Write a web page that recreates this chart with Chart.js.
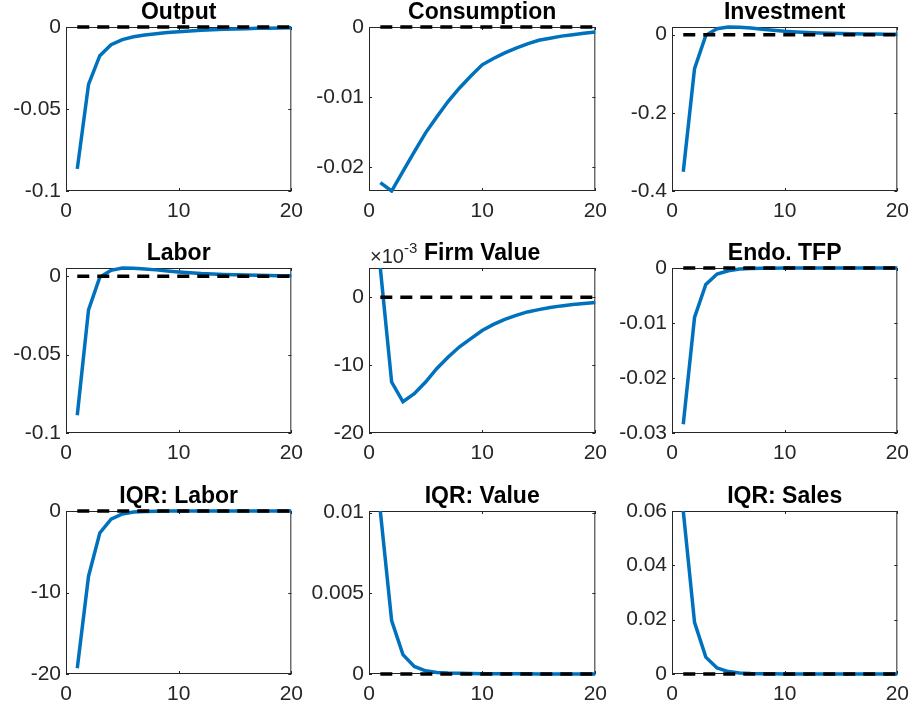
<!DOCTYPE html>
<html>
<head>
<meta charset="utf-8">
<script src="https://cdn.jsdelivr.net/npm/chart.js@4.4.1/dist/chart.umd.min.js"></script>
<style>
  body { margin: 0; background: #fff; }
  #wrap { position: relative; width: 915px; height: 711px; overflow: hidden; }
  #wrap canvas { position: absolute; }
</style>
</head>
<body>
<div id="wrap"></div>
<script>
// horizon (periods after shock)
const periods = [1, 2, 3, 4, 5, 6, 7, 8, 9, 10, 11, 12, 13, 14, 15, 16, 17, 18, 19, 20];
const xTicks = [0, 10, 20];

// impulse responses
const outputIrf = [-0.0865, -0.035, -0.0175, -0.0108, -0.0077, -0.006, -0.0049, -0.0041, -0.0034, -0.0029,
  -0.0024, -0.002, -0.0017, -0.0014, -0.0012, -0.001, -0.0008, -0.0007, -0.0006, -0.0005];
const consumptionIrf = [-0.0222, -0.0234, -0.0206, -0.0178, -0.0151, -0.0128, -0.0106, -0.0087, -0.007, -0.0054,
  -0.0045, -0.0037, -0.003, -0.0024, -0.0019, -0.0016, -0.0013, -0.0011, -0.0009, -0.0007];
const investmentIrf = [-0.3506, -0.0868, -0.0017, 0.015, 0.0196, 0.019, 0.017, 0.0136, 0.011, 0.0085,
  0.0068, 0.0055, 0.0044, 0.0035, 0.0028, 0.0022, 0.0018, 0.0014, 0.0011, 0.0009];
const laborIrf = [-0.0887, -0.0214, -0.0006, 0.0038, 0.0053, 0.0051, 0.0047, 0.0041, 0.0034, 0.0028,
  0.0023, 0.0018, 0.0015, 0.0012, 0.001, 0.0008, 0.0006, 0.0005, 0.0004, 0.0003];
// firm value in units of 1e-3
const firmValueIrf = [4.3, -12.5, -15.4, -14.2, -12.5, -10.5, -8.8, -7.3, -6.1, -4.9,
  -4.0, -3.26, -2.67, -2.17, -1.83, -1.53, -1.28, -1.09, -0.94, -0.79];
const endoTfpIrf = [-0.0284, -0.009, -0.003, -0.0011, -0.0005, -0.0002, -0.0001, -0.00005, -0.00003, -0.00002,
  -0.00001, -0.00001, 0, 0, 0, 0, 0, 0, 0, 0];
const iqrLaborIrf = [-19.3, -8.0, -2.7, -1.0, -0.37, -0.13, -0.05, -0.02, -0.01, -0.01,
  0, 0, 0, 0, 0, 0, 0, 0, 0, 0];
const iqrValueIrf = [0.0101, 0.00331, 0.0012, 0.00047, 0.0002, 0.0001, 0.00006, 0.00004, 0.00003, 0.00002,
  0.00002, 0.00001, 0.00001, 0.00001, 0, 0, 0, 0, 0, 0];
const iqrSalesIrf = [0.06, 0.019, 0.0062, 0.0022, 0.0009, 0.0004, 0.0002, 0.0001, 0.00005, 0.00003,
  0.00002, 0.00001, 0, 0, 0, 0, 0, 0, 0, 0];

const titles = ["Output", "Consumption", "Investment", "Labor", "Firm Value", "Endo. TFP",
  "IQR: Labor", "IQR: Value", "IQR: Sales"];
const series = [outputIrf, consumptionIrf, investmentIrf, laborIrf, firmValueIrf, endoTfpIrf,
  iqrLaborIrf, iqrValueIrf, iqrSalesIrf];
const yTicks = [
  [-0.1, -0.05, 0], [-0.02, -0.01, 0], [-0.4, -0.2, 0],
  [-0.1, -0.05, 0], [-20, -10, 0], [-0.03, -0.02, -0.01, 0],
  [-20, -10, 0], [0, 0.005, 0.01], [0, 0.02, 0.04, 0.06]
];
const yLimits = [
  [-0.1, 0], [-0.0234, 0], [-0.4, 0.0196],
  [-0.1, 0.0053], [-20, 4.3], [-0.03, 0],
  [-20, 0], [0, 0.0101], [0, 0.06]
];
const exponents = ["", "", "", "", "-3", "", "", "", ""];

// subplot geometry (plot box in page pixels)
const colLeft = [66, 369, 672];
const colRight = [295, 599, 901];
const rowTop = [27, 268, 511];
const rowBottom = [191, 433, 674];
const axisW = 66, topPad = 27, bottomPad = 30, rightPad = 16;

const FONT = "'Liberation Sans', Arial, Helvetica, sans-serif";
const AXIS_COLOR = "#262626";

const boxPlugin = {
  id: "matlabBox",
  beforeDatasetsDraw(chart) {
    const ctx = chart.ctx;
    const a = chart.chartArea;
    const xs = chart.scales.x, ys = chart.scales.y;
    ctx.save();
    ctx.strokeStyle = AXIS_COLOR;
    ctx.lineWidth = 1;
    ctx.strokeRect(a.left + 0.5, a.top + 0.5, a.right - a.left - 1, a.bottom - a.top - 1);
    // inward tick marks on all four sides
    ctx.beginPath();
    const len = 3;
    xs.ticks.forEach(t => {
      const px = Math.round(xs.getPixelForValue(t.value)) + 0.5;
      ctx.moveTo(px, a.bottom); ctx.lineTo(px, a.bottom - len);
      ctx.moveTo(px, a.top); ctx.lineTo(px, a.top + len);
    });
    ys.ticks.forEach(t => {
      const py = Math.round(ys.getPixelForValue(t.value)) + 0.5;
      ctx.moveTo(a.left, py); ctx.lineTo(a.left + len, py);
      ctx.moveTo(a.right, py); ctx.lineTo(a.right - len, py);
    });
    ctx.stroke();
    ctx.restore();
  },
  afterDraw(chart, args, opts) {
    const ctx = chart.ctx;
    const a = chart.chartArea;
    ctx.save();
    ctx.fillStyle = AXIS_COLOR;
    ctx.textBaseline = "alphabetic";
    if (opts.exponent) {
      ctx.textAlign = "left";
      ctx.font = "20px " + FONT;
      ctx.fillText("\u00d710", a.left + 1, a.top - 5);
      const w = ctx.measureText("\u00d710").width;
      ctx.font = "15px " + FONT;
      ctx.fillText(opts.exponent, a.left + 1 + w, a.top - 15);
    }
    ctx.fillStyle = "#000";
    ctx.textAlign = "center";
    ctx.font = "bold 23px " + FONT;
    ctx.fillText(opts.title, (a.left + a.right) / 2, a.top - 8);
    ctx.restore();
  }
};

const wrap = document.getElementById("wrap");

for (let i = 0; i < 9; i++) {
  const r = Math.floor(i / 3), c = i % 3;
  const plotW = colRight[c] - colLeft[c];
  const plotH = rowBottom[r] - rowTop[r];
  const canvas = document.createElement("canvas");
  canvas.width = axisW + plotW + rightPad;
  canvas.height = topPad + plotH + bottomPad;
  canvas.style.left = (colLeft[c] - axisW) + "px";
  canvas.style.top = (rowTop[r] - topPad) + "px";
  wrap.appendChild(canvas);

  const vals = series[i];
  const ticksY = yTicks[i];

  new Chart(canvas.getContext("2d"), {
    type: "line",
    data: {
      datasets: [
        {
          data: [{x: periods[0], y: 0}, {x: periods[periods.length - 1], y: 0}],
          borderColor: "#000",
          borderWidth: 3.5,
          borderDash: [12, 8],
          pointRadius: 0,
          clip: 4,
          order: 0
        },
        {
          data: periods.map((p, k) => ({x: p, y: vals[k]})),
          borderColor: "#0072BD",
          borderWidth: 3.5,
          pointRadius: 0,
          tension: 0,
          clip: 2,
          order: 1
        }
      ]
    },
    options: {
      responsive: false,
      animation: false,
      layout: {padding: {top: topPad, right: rightPad, left: 0, bottom: 0}},
      plugins: {
        legend: {display: false},
        tooltip: {enabled: false},
        matlabBox: {title: titles[i], exponent: exponents[i]}
      },
      scales: {
        x: {
          type: "linear",
          min: 0,
          max: 20,
          grid: {display: false, drawTicks: false},
          border: {display: false},
          afterBuildTicks: (scale) => { scale.ticks = xTicks.map(v => ({value: v})); },
          afterFit: (scale) => { scale.height = bottomPad; },
          ticks: {
            padding: 8,
            maxRotation: 0,
            color: AXIS_COLOR,
            font: {family: FONT, size: 21},
            callback: (v) => String(v)
          }
        },
        y: {
          type: "linear",
          min: yLimits[i][0],
          max: yLimits[i][1],
          grid: {display: false, drawTicks: false},
          border: {display: false},
          afterBuildTicks: (scale) => { scale.ticks = ticksY.map(v => ({value: v})); },
          afterFit: (scale) => { scale.width = axisW; },
          ticks: {
            padding: 5,
            color: AXIS_COLOR,
            font: {family: FONT, size: 21},
            callback: (v) => String(v)
          }
        }
      }
    },
    plugins: [boxPlugin]
  });
}
</script>
</body>
</html>
